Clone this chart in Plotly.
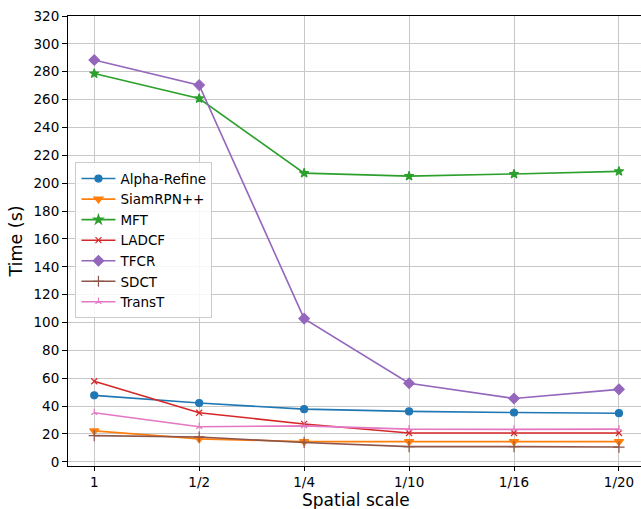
import plotly.graph_objects as go

scales = ["1", "1/2", "1/4", "1/10", "1/16", "1/20"]
alpha_refine = [47.7, 42.2, 37.8, 36.2, 35.4, 34.9]
siamrpn = [22.2, 16.5, 14.5, 14.5, 14.5, 14.5]
mft = [278.7, 260.8, 207.2, 205.1, 206.6, 208.5]
ladcf = [57.8, 35.2, 27.2, 20.7, 20.7, 20.7]
tfcr = [288.4, 270.4, 102.8, 56.4, 45.5, 52.0]
sdct = [18.8, 17.8, 13.9, 10.9, 10.9, 10.6]
transt = [35.2, 25.2, 25.8, 23.5, 23.3, 23.5]

series = [
    ("Alpha-Refine", alpha_refine, "#1f77b4", "circle", 7),
    ("SiamRPN++", siamrpn, "#ff7f0e", "triangle-down", 8),
    ("MFT", mft, "#2ca02c", "star", 7),
    ("LADCF", ladcf, "#d62728", "x-thin-open", 6),
    ("TFCR", tfcr, "#9467bd", "diamond", 8),
    ("SDCT", sdct, "#8c564b", "cross-thin-open", 8),
    ("TransT", transt, "#e377c2", "y-up-open", 5),
]

xs = list(range(len(scales)))
fig = go.Figure()
for name, vals, col, sym, size in series:
    fig.add_trace(go.Scatter(
        x=xs, y=vals, name=name, mode="lines+markers",
        line=dict(color=col, width=1.6),
        marker=dict(symbol=sym, size=size, color=col,
                    line=dict(color=col, width=1.2)),
    ))

font = "DejaVu Sans"
fig.update_layout(
    width=641, height=509,
    margin=dict(l=68, r=0, t=16, b=43),
    plot_bgcolor="white", paper_bgcolor="white",
    font=dict(family=font, size=13, color="black"),
    showlegend=True,
    legend=dict(
        x=0.013, y=0.675, xanchor="left", yanchor="top",
        bgcolor="rgba(255,255,255,0.85)", bordercolor="#cccccc", borderwidth=1,
        font=dict(family=font, size=13.5), tracegroupgap=0,
        itemwidth=34,
    ),
    xaxis=dict(
        range=[-0.25, 5.21], tickmode="array", tickvals=xs, ticktext=scales,
        showgrid=True, gridcolor="#c8c8c8", gridwidth=1.2,
        showline=True, linecolor="black", linewidth=1.1, mirror=True,
        ticks="outside", ticklen=4, tickcolor="black",
        tickfont=dict(size=13.5), automargin=False,
        zeroline=False,
    ),
    yaxis=dict(
        range=[-3.0, 320], tickmode="array", tickvals=list(range(0, 321, 20)),
        showgrid=True, gridcolor="#c8c8c8", gridwidth=1.2,
        showline=True, linecolor="black", linewidth=1.1,
        ticks="outside", ticklen=5, tickcolor="black",
        tickfont=dict(size=13.5), automargin=False,
        title=dict(text="Time (s)", font=dict(size=17.5), standoff=6),
        zeroline=False,
    ),
    annotations=[dict(
        text="Spatial scale", xref="paper", yref="paper",
        x=(356 - 68) / 573, y=-0.0755, xanchor="center", yanchor="middle",
        showarrow=False, font=dict(size=17, family=font),
    )],
)

fig.write_html("out.html")
